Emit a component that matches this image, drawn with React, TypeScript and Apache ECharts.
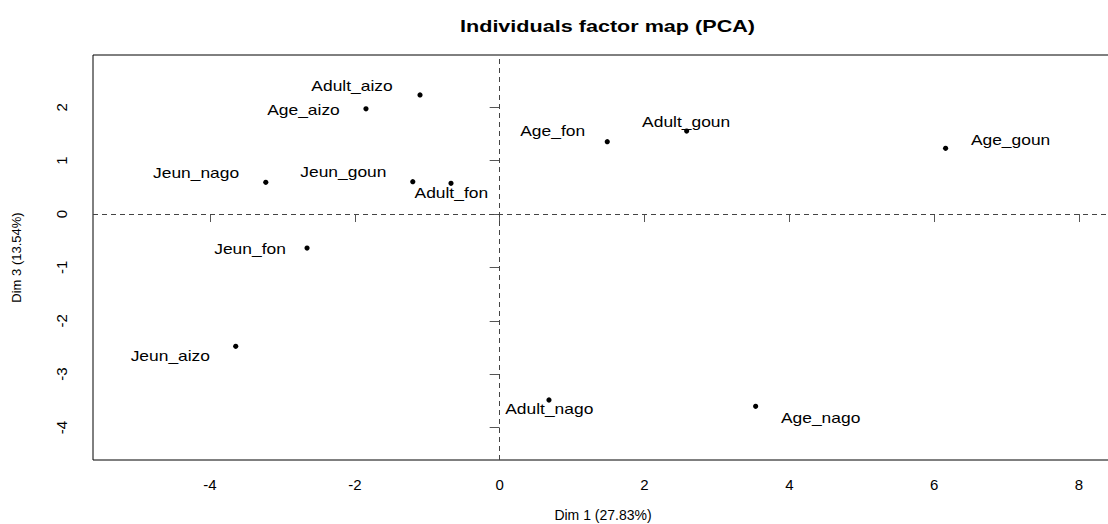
import React, { useEffect, useRef } from "react";
import * as echarts from "echarts";

// Individuals (PCA) – coordinates on Dim 1 and Dim 3
const names = [
  "Adult_aizo", "Age_aizo", "Jeun_goun", "Adult_fon", "Jeun_nago", "Jeun_fon",
  "Jeun_aizo", "Adult_nago", "Age_nago", "Age_fon", "Adult_goun", "Age_goun",
];
const dim1 = [-1.10, -1.846, -1.20, -0.672, -3.23, -2.66, -3.645, 0.681, 3.535, 1.486, 2.582, 6.158];
const dim3 = [2.23, 1.97, 0.605, 0.575, 0.594, -0.637, -2.478, -3.484, -3.602, 1.354, 1.555, 1.231];

const xTicks = [-4, -2, 0, 2, 4, 6, 8];
const yTicks = [-4, -3, -2, -1, 0, 1, 2];

const titleText = "Individuals factor map (PCA)";
const xName = "Dim 1 (27.83%)";
const yName = "Dim 3 (13.54%)";

// label placement (pixel offsets from each point, like the repelled labels of the original)
const labelOffsets: [number, number][] = [
  [-68, -9.3], [-62.5, 1.3], [-69.4, -9.4], [0.3, 10], [-69.7, -9.6], [-57, 1.3],
  [-65.4, 9.7], [0.3, 9.3], [65, 11.4], [-54.6, -10.7], [-0.5, -9.3], [65, -8.3],
];

const FONT = "'Liberation Sans', Arial, Helvetica, sans-serif";

export default function App() {
  const ref = useRef<HTMLDivElement>(null);

  useEffect(() => {
    if (!ref.current) return;
    const chart = echarts.init(ref.current, null, { renderer: "svg" });

    chart.setOption({
      animation: false,
      backgroundColor: "#ffffff",
      graphic: [
        {
          type: "text",
          x: 607.5,
          y: 26,
          scaleX: 1.27,
          style: {
            text: titleText,
            fontSize: 17,
            fontWeight: "bold",
            fontFamily: FONT,
            fill: "#000",
            align: "center",
            verticalAlign: "middle",
            textAlign: "center",
            textVerticalAlign: "middle",
          },
        },
      ],
      grid: {
        left: 93,
        top: 55,
        width: 1020,
        height: 405,
        show: true,
        borderColor: "#000",
        borderWidth: 1,
        backgroundColor: "transparent",
        containLabel: false,
        outerBoundsMode: "none",
      },
      xAxis: {
        type: "value",
        min: -5.616,
        max: 8.47,
        splitLine: { show: false },
        axisLine: { show: false },
        axisTick: {
          show: true,
          length: 8,
          customValues: xTicks,
          lineStyle: { color: "#555", width: 1 },
        },
        axisLabel: {
          customValues: xTicks,
          fontSize: 15,
          color: "#000",
          fontFamily: FONT,
          margin: 17,
        },
        name: xName,
        nameLocation: "middle",
        nameGap: 48,
        nameTextStyle: { fontSize: 14, color: "#000", fontFamily: FONT },
      },
      yAxis: {
        type: "value",
        min: -4.608,
        max: 2.979,
        splitLine: { show: false },
        axisLine: { show: false },
        axisTick: {
          show: true,
          length: 10,
          customValues: yTicks,
          lineStyle: { color: "#555", width: 1 },
        },
        axisLabel: {
          customValues: yTicks,
          rotate: 90,
          fontSize: 15,
          color: "#000",
          fontFamily: FONT,
          margin: 24,
        },
        name: yName,
        nameLocation: "middle",
        nameGap: 70,
        nameRotate: 90,
        nameTextStyle: { fontSize: 13, color: "#000", fontFamily: FONT },
      },
      series: [
        {
          type: "line",
          data: [],
          silent: true,
          markLine: {
            silent: true,
            symbol: "none",
            label: { show: false },
            lineStyle: { type: [5, 4], color: "#444", width: 1 },
            data: [{ xAxis: 0 }, { yAxis: 0 }],
          },
        },
        {
          type: "custom",
          data: names.map((_, i) => [dim1[i], dim3[i]]),
          renderItem: (params: any, api: any) => {
            const i = params.dataIndex;
            const p = api.coord([api.value(0), api.value(1)]);
            const off = labelOffsets[i];
            return {
              type: "group",
              children: [
                {
                  type: "circle",
                  shape: { cx: p[0], cy: p[1], r: 2.6 },
                  style: { fill: "#000" },
                },
                {
                  type: "text",
                  x: p[0] + off[0],
                  y: p[1] + off[1],
                  scaleX: 1.21,
                  style: {
                    text: names[i],
                    fontSize: 14.4,
                    fontFamily: FONT,
                    fill: "#000",
                    align: "center",
                    verticalAlign: "middle",
                    textAlign: "center",
                    textVerticalAlign: "middle",
                  },
                },
              ],
            };
          },
        },
      ],
    });

    return () => chart.dispose();
  }, []);

  return (
    <div
      ref={ref}
      style={{ position: "absolute", left: 0, top: 0, width: 1108, height: 524 }}
    />
  );
}
